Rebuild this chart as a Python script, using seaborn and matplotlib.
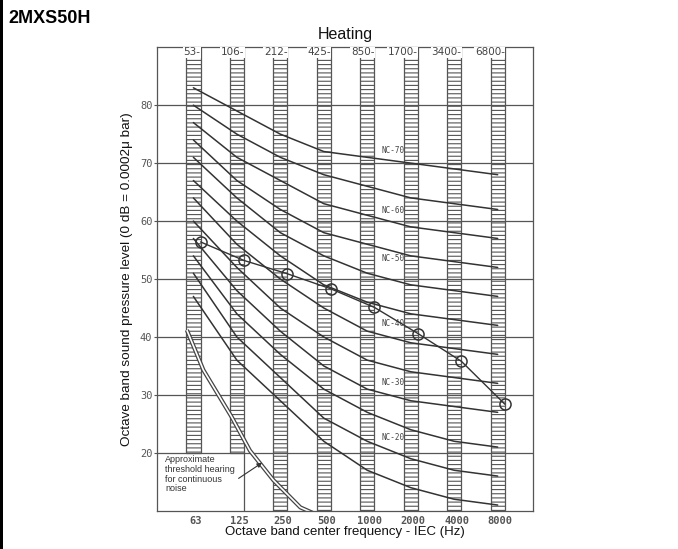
import numpy as np
import pandas as pd
import matplotlib
matplotlib.use("Agg")
import matplotlib.pyplot as plt
import seaborn as sns

sns.set_style("white")
plt.rcParams['font.family'] = ['Liberation Sans', 'DejaVu Sans']
plt.rcParams['hatch.color'] = '#555555'
plt.rcParams['hatch.linewidth'] = 0.8

"""data"""
freqs = ['63', '125', '250', '500', '1000', '2000', '4000', '8000']
band_edges = ['53', '106', '212', '425', '850', '1700', '3400', '6800']

# NC curves (dB per octave band)
nc_15 = [47, 36, 29, 22, 17, 14, 12, 11]
nc_20 = [51, 40, 33, 26, 22, 19, 17, 16]
nc_25 = [54, 44, 37, 31, 27, 24, 22, 21]
nc_30 = [57, 48, 41, 35, 31, 29, 28, 27]
nc_35 = [60, 52, 45, 40, 36, 34, 33, 32]
nc_40 = [64, 56, 50, 45, 41, 39, 38, 37]
nc_45 = [67, 60, 54, 49, 46, 44, 43, 42]
nc_50 = [71, 64, 58, 54, 51, 49, 48, 47]
nc_55 = [74, 67, 62, 58, 56, 54, 53, 52]
nc_60 = [77, 71, 67, 63, 61, 59, 58, 57]
nc_65 = [80, 75, 71, 68, 66, 64, 63, 62]
nc_70 = [83, 79, 75, 72, 71, 70, 69, 68]
nc_names = ['NC-15', 'NC-20', 'NC-25', 'NC-30', 'NC-35', 'NC-40',
            'NC-45', 'NC-50', 'NC-55', 'NC-60', 'NC-65', 'NC-70']
nc_curves = [nc_15, nc_20, nc_25, nc_30, nc_35, nc_40,
             nc_45, nc_50, nc_55, nc_60, nc_65, nc_70]

nc_label_names = ['NC-70', 'NC-60', 'NC-50', 'NC-40', 'NC-30', 'NC-20']
nc_label_db = [72.1, 61.9, 53.5, 42.4, 32.1, 22.6]

# measured unit (heating)
measured = [56.4, 53.2, 50.9, 48.3, 45.1, 40.6, 35.8, 28.4]

# approximate threshold of hearing (x in octave-band index)
threshold_x = [-0.15, 0.23, 0.88, 1.30, 1.84, 2.46, 2.85]
threshold_db = [41.2, 34.3, 26.2, 20.4, 15.3, 10.6, 9.3]

pos = np.arange(len(freqs))
bar_w = 0.33
band_bottom = [20, 20, 10, 10, 10, 10, 10, 10]
ink = '#333333'
grey = '#555555'

nc_df = pd.DataFrame({
    'band': np.tile(pos, len(nc_names)),
    'level': np.concatenate(nc_curves),
    'curve': np.repeat(nc_names, len(freqs)),
})

#%% figure
fig = plt.figure(figsize=(6.78, 5.49), dpi=100)
ax = fig.add_axes([0.232, 0.0695, 0.554, 0.8445])

for y in range(20, 90, 10):
    ax.axhline(y, color=grey, lw=0.9, zorder=0.5)

# octave band ladders
ax.bar(pos, [90 - b for b in band_bottom], bottom=band_bottom, width=bar_w,
       facecolor='none', edgecolor=grey, lw=0.9, hatch='----', zorder=1)
ax.vlines(1 + bar_w / 2, 10, 20, color=grey, lw=0.9, zorder=1)

for i, lab in enumerate(band_edges):
    ax.text(i + bar_w / 2, 89.1, lab + '-', ha='right', va='center',
            fontsize=7.5, family='DejaVu Sans', color='#444444',
            bbox=dict(facecolor='white', edgecolor='none', pad=0.4), zorder=3)

# NC curves
sns.lineplot(data=nc_df, x='band', y='level', units='curve', estimator=None,
             color=ink, lw=1.1, ax=ax, zorder=2, legend=False)
for name, db in zip(nc_label_names, nc_label_db):
    ax.text(5 - bar_w / 2 + 0.02, db, name, ha='right', va='center',
            fontsize=5.5, family='DejaVu Sans Mono', color='#444444', zorder=3)

# threshold of hearing (double line)
ax.plot(threshold_x, threshold_db, color='#444444', lw=3.0, zorder=2,
        solid_capstyle='butt')
ax.plot(threshold_x, threshold_db, color='white', lw=1.2, zorder=2.1,
        solid_capstyle='butt')
ax.text(-0.65, 19.6, 'Approximate\nthreshold hearing\nfor continuous\nnoise',
        ha='left', va='top', fontsize=6.5, linespacing=1.1, color=ink)
ax.annotate('', xy=(1.58, 18.3), xytext=(1.04, 15.6),
            arrowprops=dict(arrowstyle='-|>', color=ink, lw=0.8,
                            mutation_scale=7, shrinkA=0, shrinkB=0))

# measured values
sns.lineplot(x=pos + bar_w / 2, y=measured, color=ink, lw=1.0, marker='o',
             markersize=8, markerfacecolor='none', markeredgecolor=ink,
             markeredgewidth=1.1, ax=ax, zorder=4)

ax.set_xlim(-0.83, 7.81)
ax.set_ylim(10, 90)
ax.set_yticks(range(20, 90, 10))
ax.set_xticks(pos + 0.06)
ax.set_xticklabels(freqs, family='DejaVu Sans Mono', fontweight='bold',
                   fontsize=7.5, color='#555555')
ax.set_yticklabels([str(v) for v in range(20, 90, 10)],
                   family='DejaVu Sans Mono', fontsize=7.5, color='#555555')
ax.tick_params(axis='x', length=0, pad=4)
ax.tick_params(axis='y', length=2.5, color=grey, left=True, pad=1)
for s in ax.spines.values():
    s.set_color(grey)
    s.set_linewidth(0.9)

ax.set_xlabel('Octave band center frequency - IEC (Hz)', fontsize=9.5,
              labelpad=0, color='#111111')
ax.set_ylabel('Octave band sound pressure level (0 dB = 0.0002\u03bc bar)',
              fontsize=9.7, labelpad=5, color='#111111')
ax.set_title('Heating', fontsize=11.5, pad=6, color='#111111')

fig.text(0.012, 0.967, '2MXS50H', fontsize=13, fontweight='bold',
         color='black', ha='left', va='center')
fig.add_artist(plt.Rectangle((0, 0), 3 / 678, 1, transform=fig.transFigure,
                             color='black', lw=0))

fig.savefig('out.png', dpi=100)
